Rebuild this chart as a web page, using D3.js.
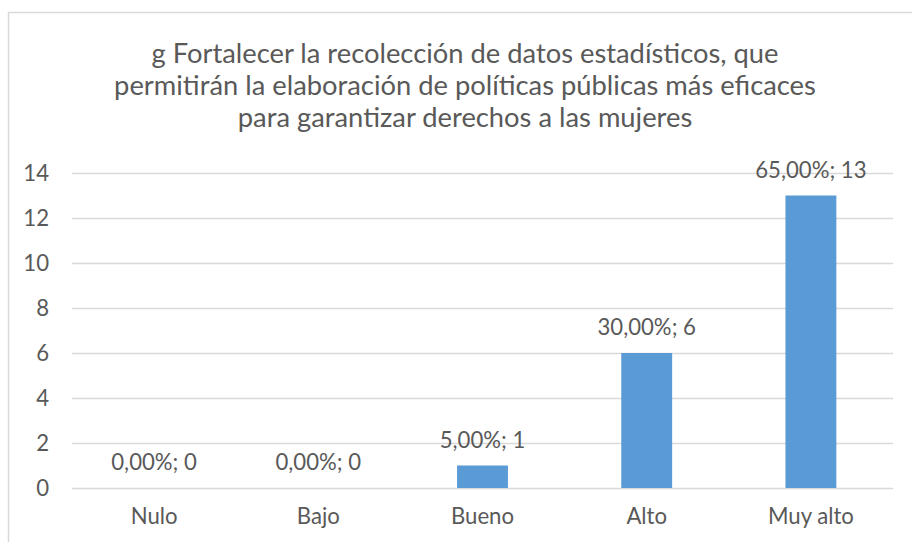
<!DOCTYPE html>
<html>
<head>
<meta charset="utf-8">
<script src="https://cdn.jsdelivr.net/npm/d3@7"></script>
<style>
  body { margin: 0; background: #fff; }
  text { font-family: Lato, "Open Sans", sans-serif; fill: #595959; }
</style>
</head>
<body>
<div id="chart"></div>
<script>
var categories = ["Nulo", "Bajo", "Bueno", "Alto", "Muy alto"];
var counts = [0, 0, 1, 6, 13];
var percents = ["0,00%", "0,00%", "5,00%", "30,00%", "65,00%"];
var yTicks = [0, 2, 4, 6, 8, 10, 12, 14];
var titleLines = [
    "g Fortalecer la recolección de datos estadísticos, que",
    "permitirán la elaboración de políticas públicas más eficaces",
    "para garantizar derechos a las mujeres"
];

var w = 912,
    h = 542;
var margin = { top: 173, right: 19, bottom: 54, left: 72 };

var svg = d3.select("#chart").append("svg")
    .attr("width", w)
    .attr("height", h);

// work out a font size so a sample string hits a target width
function fitSize(str, target) {
    var t = svg.append("text").style("font-size", "20px").text(str);
    var len = t.node().getComputedTextLength();
    t.remove();
    return 20 * target / len;
}
var titleSize = fitSize(titleLines[1], 702);
var labelSize = fitSize("Muy alto", 86);

// chart frame (cropped on right and bottom)
svg.append("path")
    .attr("d", "M8.5," + (h + 2) + "V12.5H" + (w + 2))
    .style("fill", "none")
    .style("stroke", "#d9d9d9")
    .style("stroke-width", "1.5px");

var x = d3.scaleBand()
    .domain(categories)
    .range([margin.left, w - margin.right])
    .paddingInner(0.69)
    .paddingOuter(0.345);

var y = d3.scaleLinear()
    .domain([0, 14])
    .range([h - margin.bottom, margin.top]);

// gridlines
svg.selectAll("line.grid")
    .data(yTicks)
    .enter().append("line")
    .attr("class", "grid")
    .attr("x1", margin.left)
    .attr("x2", w - margin.right)
    .attr("y1", function (d) { return Math.round(y(d)) + 0.5; })
    .attr("y2", function (d) { return Math.round(y(d)) + 0.5; })
    .style("stroke", "#d9d9d9")
    .style("stroke-width", "1.5px");

// y axis labels
var yAxis = d3.axisLeft(y).tickValues(yTicks).tickSize(0).tickPadding(23);
var gy = svg.append("g")
    .attr("transform", "translate(" + margin.left + ",0)")
    .call(yAxis);
gy.select(".domain").remove();
gy.selectAll("text")
    .style("font-size", labelSize + "px")
    .style("font-family", "Lato, sans-serif")
    .attr("fill", "#595959");

// x axis labels
var xAxis = d3.axisBottom(x).tickSize(0).tickPadding(20);
var gx = svg.append("g")
    .attr("transform", "translate(0," + y(0) + ")")
    .call(xAxis);
gx.select(".domain").remove();
gx.selectAll("text")
    .style("font-size", labelSize + "px")
    .style("font-family", "Lato, sans-serif")
    .attr("fill", "#595959");

// bars
svg.selectAll("rect.bar")
    .data(counts)
    .enter().append("rect")
    .attr("class", "bar")
    .attr("x", function (d, i) { return x(categories[i]); })
    .attr("width", x.bandwidth())
    .attr("y", function (d) { return y(d); })
    .attr("height", function (d) { return y(0) - y(d); })
    .style("fill", "#5b9bd5");

// data labels
svg.selectAll("text.dl")
    .data(counts)
    .enter().append("text")
    .attr("class", "dl")
    .attr("x", function (d, i) { return x(categories[i]) + x.bandwidth() / 2; })
    .attr("y", function (d) { return y(d) - 18; })
    .attr("text-anchor", "middle")
    .style("font-size", labelSize + "px")
    .text(function (d, i) { return percents[i] + "; " + d; });

// title
svg.selectAll("text.title")
    .data(titleLines)
    .enter().append("text")
    .attr("class", "title")
    .attr("x", 465)
    .attr("y", function (d, i) { return 63 + i * 32; })
    .attr("text-anchor", "middle")
    .style("font-size", titleSize + "px")
    .text(function (d) { return d; });
</script>
</body>
</html>
